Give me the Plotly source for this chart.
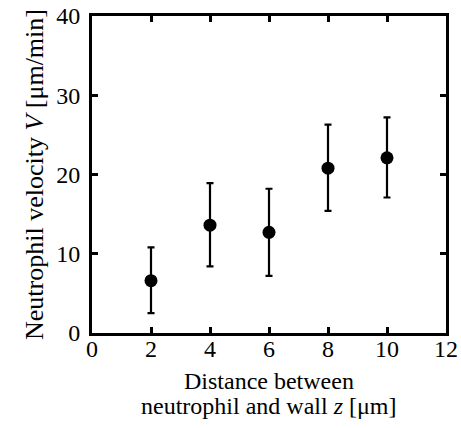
import plotly.graph_objects as go

distance = [2, 4, 6, 8, 10]
velocity = [6.6, 13.6, 12.7, 20.8, 22.1]
err_plus = [4.2, 5.3, 5.5, 5.5, 5.1]
err_minus = [4.1, 5.2, 5.5, 5.4, 5.0]

x_ticks = [0, 2, 4, 6, 8, 10, 12]
y_ticks = [0, 10, 20, 30, 40]

x_title_lines = ["Distance between", "neutrophil and wall <i>z</i> [μm]"]
y_title = "Neutrophil velocity <i>V</i> [μm/min]"

FONT = "Liberation Serif"

fig = go.Figure()
fig.add_trace(go.Scatter(
    x=distance, y=velocity, mode="markers",
    marker=dict(symbol="circle", size=13, color="black"),
    error_y=dict(type="data", symmetric=False, array=err_plus, arrayminus=err_minus,
                 color="black", thickness=2.2, width=3.5),
    showlegend=False,
))

axis_common = dict(
    showline=True, linewidth=3, linecolor="black", mirror="ticks",
    ticks="inside", ticklen=6, tickwidth=3, tickcolor="black",
    showgrid=False, zeroline=False,
    tickfont=dict(family=FONT, size=24, color="black"),
)

fig.update_xaxes(
    range=[0, 12], tickvals=x_ticks, ticktext=[str(v) for v in x_ticks],
    ticklabelstandoff=-8,
    **axis_common,
)
fig.update_yaxes(
    range=[0, 40], tickvals=y_ticks, ticktext=[str(v) for v in y_ticks],
    title=dict(text=y_title, font=dict(family=FONT, size=26, color="black"), standoff=6),
    ticklabelstandoff=4,
    **axis_common,
)

for line, ypos in zip(x_title_lines, [-0.150, -0.230]):
    fig.add_annotation(
        text=line, xref="paper", yref="paper", x=0.5, y=ypos,
        xanchor="center", yanchor="middle", showarrow=False,
        font=dict(family=FONT, size=24, color="black"),
    )

fig.update_layout(
    width=461, height=428,
    margin=dict(l=92, r=15, t=16, b=95, autoexpand=False),
    plot_bgcolor="white", paper_bgcolor="white",
    font=dict(family=FONT, color="black"),
)

fig.write_html("out.html")
